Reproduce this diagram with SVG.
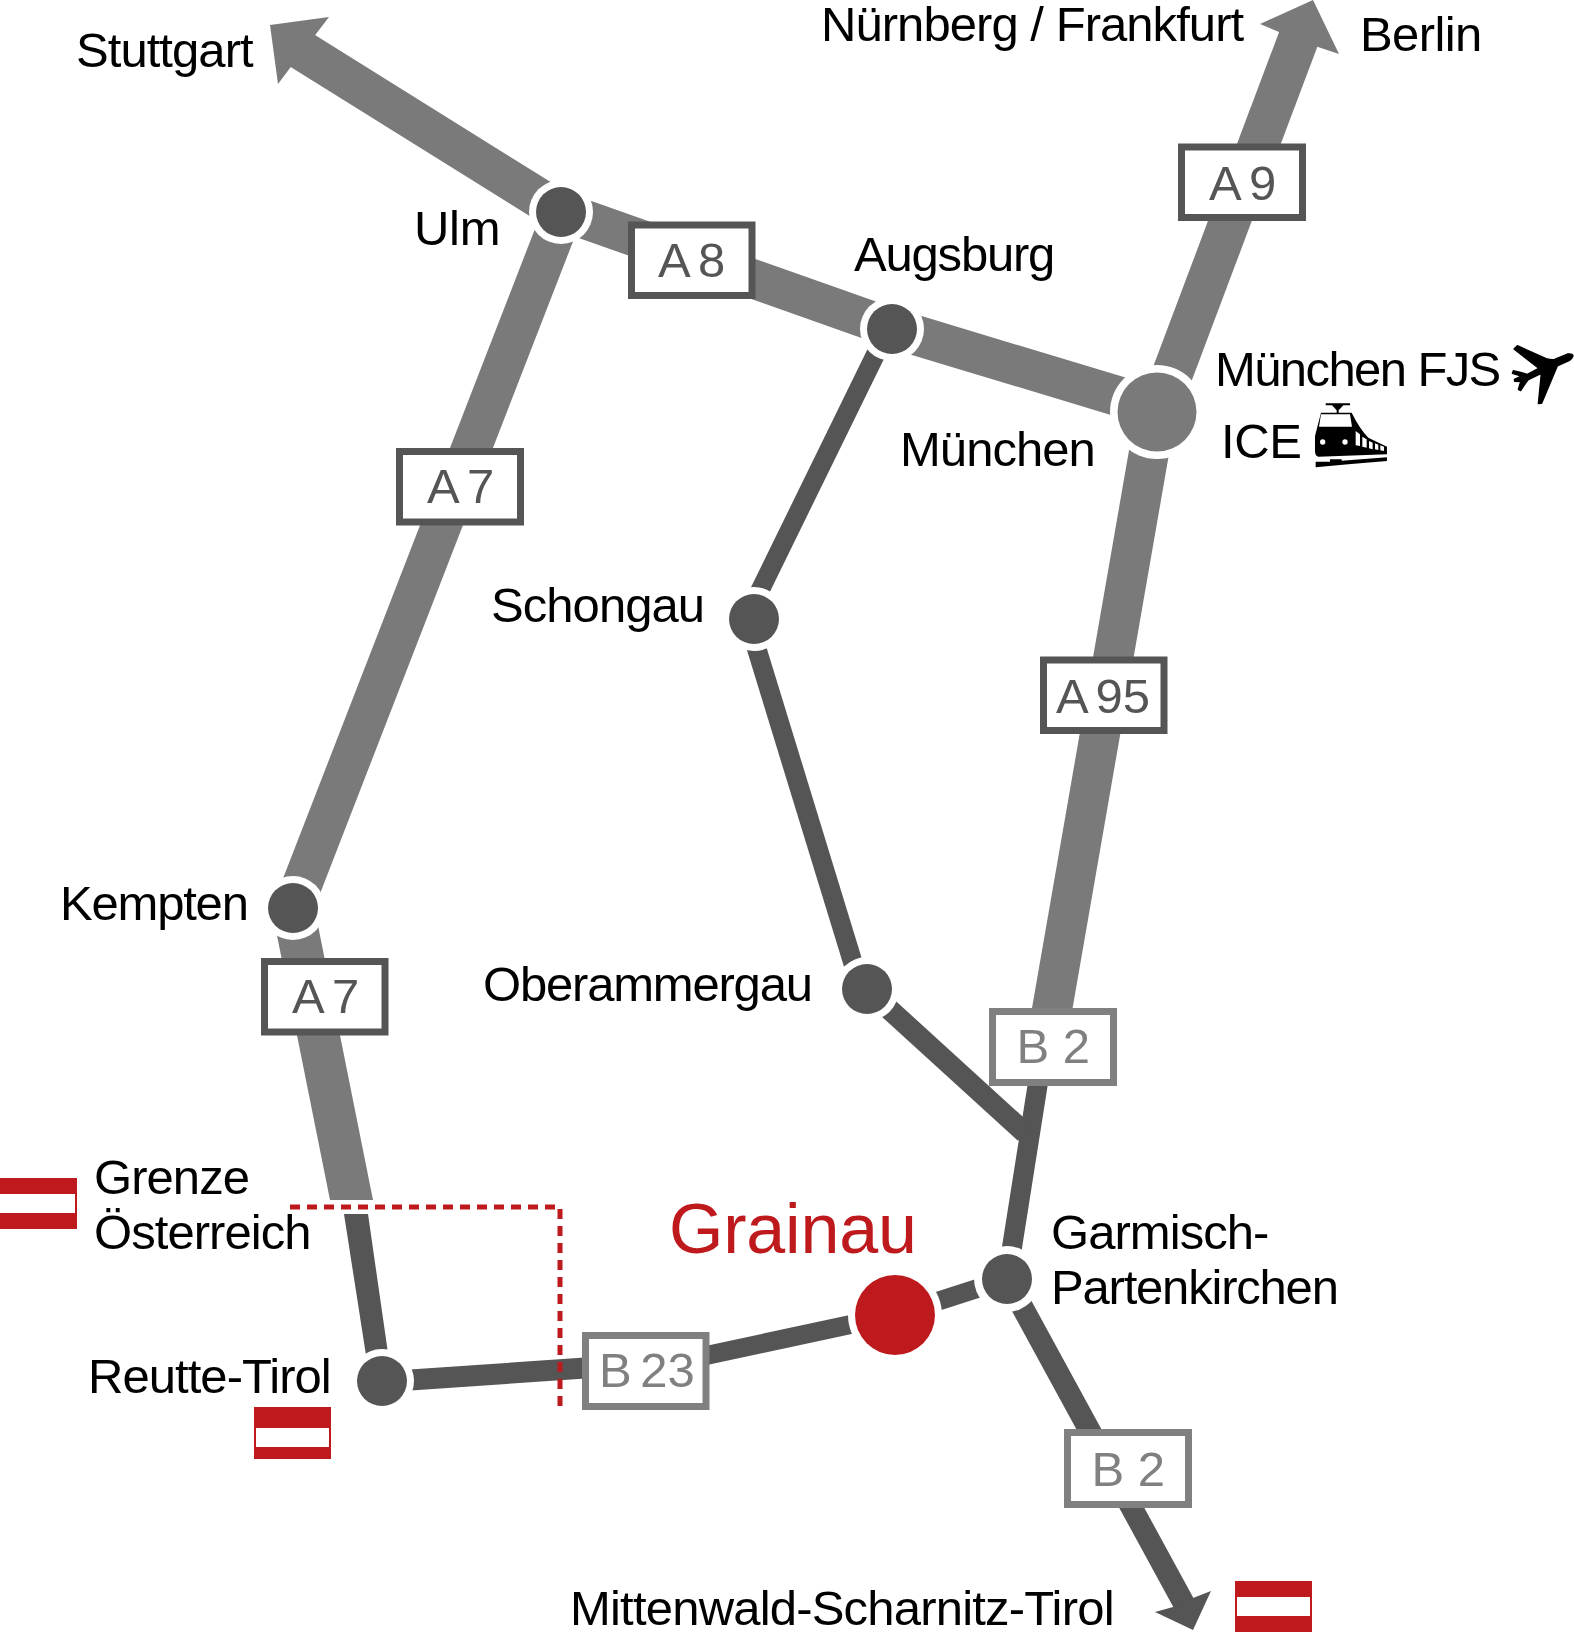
<svg xmlns="http://www.w3.org/2000/svg" width="1574" height="1632" viewBox="0 0 1574 1632">
<style>
text{font-family:"Liberation Sans",Arial,sans-serif;font-size:49px;letter-spacing:-.95px;fill:#000}
.hi{fill:none;stroke:#7a7a7a;stroke-width:40}
.lo{fill:none;stroke:#555;stroke-width:20}
.hh{fill:#7a7a7a}
.ld{fill:#555}
.halo{fill:#fff}
.dot{fill:#555}
.sa rect{fill:#fff;stroke:#555;stroke-width:7}
.sa text{fill:#555;letter-spacing:0;word-spacing:-3.500px}
.sb rect{fill:#fff;stroke:#808080;stroke-width:7}
.sb text{fill:#808080;letter-spacing:0}
.fr{fill:#be1a1d}
.fw{fill:#fff}
</style>
<rect width="1574" height="1632" fill="#fff"/>
<g id="connectors">
<line class="hi" x1="561" y1="212" x2="290" y2="43"/>
<polygon class="hh" points="270,25 329,17 316,34 290,68 278,84"/>
<line class="hi" x1="561" y1="211" x2="892" y2="328" style="stroke-width:39"/>
<line class="hi" x1="892" y1="328" x2="1157" y2="408"/>
<line class="hi" x1="1158" y1="412" x2="1304" y2="24" style="stroke-width:41"/>
<polygon class="hh" points="1313,0 1339,54 1318,47 1279,32 1260,24"/>
<line class="hi" x1="563" y1="212" x2="293" y2="908"/>
<polygon class="hh" points="271.500,908 314.500,908 373,1200 330,1200"/>
<polygon class="ld" points="344,1214 368,1214 392,1381 370,1381"/>
<line class="hi" x1="1156" y1="412" x2="1045" y2="1050"/>
<line class="lo" x1="1040" y1="1070" x2="1007" y2="1279"/>
<line class="lo" x1="888" y1="329" x2="746" y2="619" style="stroke-width:19"/>
<line class="lo" x1="747.600" y1="619" x2="861" y2="989" style="stroke-width:19.500"/>
<line class="lo" x1="867" y1="989" x2="1025" y2="1133" style="stroke-width:21"/>
<line class="lo" x1="381" y1="1382" x2="600" y2="1367" style="stroke-width:21"/>
<line class="lo" x1="690" y1="1359" x2="895" y2="1315" style="stroke-width:19"/>
<line class="lo" x1="895" y1="1315" x2="1007" y2="1279" style="stroke-width:19"/>
<line class="lo" x1="1007" y1="1279" x2="1188" y2="1611" style="stroke-width:22"/>
<polygon class="ld" points="1193,1630 1155,1612 1173,1607 1193,1598 1211,1591"/>
<path d="M290 1207H560V1408" fill="none" stroke="#be1a1d" stroke-width="5" stroke-dasharray="10 7"/>
</g>
<g id="node-stuttgart"><text x="76" y="67">Stuttgart</text></g>
<g id="node-nuernberg"><text x="821" y="41">Nürnberg / Frankfurt</text></g>
<g id="node-berlin"><text x="1360" y="51" style="letter-spacing:-.6px">Berlin</text></g>
<g id="node-ulm"><circle class="halo" cx="561" cy="212" r="32"/><circle class="dot" cx="561" cy="212" r="25"/><text x="414" y="245" style="letter-spacing:-.3px">Ulm</text></g>
<g id="node-augsburg"><circle class="halo" cx="892" cy="329" r="32"/><circle class="dot" cx="892" cy="329" r="25"/><text x="854" y="271" style="letter-spacing:-1.200px">Augsburg</text></g>
<g id="node-muenchen"><circle class="halo" cx="1157" cy="412" r="47"/><circle class="hh" cx="1157" cy="412" r="39.500"/><text x="900" y="466">München</text>
<text x="1215" y="386" style="letter-spacing:-1.600px">München FJS</text><text x="1221" y="458" style="letter-spacing:-.4px">ICE</text>
<g id="icon-plane" transform="translate(1504 340) scale(.3333)"><path stroke="#000" stroke-width="4" stroke-linejoin="round" d="M40 17L130 57Q140 60 150 59L190 42Q205 40 207 47Q206 55 195 62L160 78L113 190L103 191L112 100L72 120L66 128L50 152L43 148L50 125L32 124L31 118L52 108L25 100L28 92L50 97L70 103L104 85L30 27Z"/></g>
<g id="icon-train" transform="translate(1305 396) scale(.3333)"><path d="M62 22H135V28H115L101 43V50H140Q165 100 190 125L246 152V175L40 182Q30 180 30 165V120L48 50H95V43L81 28H62Z"/><path fill="#fff" d="M48 55H135L141 92H42Z"/><circle cx="53" cy="138" r="8" fill="#fff"/><circle cx="120" cy="138" r="8" fill="#fff"/><path fill="#fff" d="M152 105L165 115V150L152 148ZM172 122L185 130V155L172 152ZM192 135L203 140V160L192 157ZM210 142L220 146V162L210 160ZM226 148L237 152V165L226 163Z"/><path d="M32 197H75V190H110V194L246 184V195L130 205L32 214Z"/></g></g>
<g id="node-schongau"><circle class="halo" cx="754" cy="619" r="32"/><circle class="dot" cx="754" cy="619" r="25"/><text x="491" y="622">Schongau</text></g>
<g id="node-kempten"><circle class="halo" cx="293" cy="908" r="32"/><circle class="dot" cx="293" cy="908" r="25"/><text x="60" y="920" style="letter-spacing:-1.200px">Kempten</text></g>
<g id="node-oberammergau"><circle class="halo" cx="867" cy="989" r="32"/><circle class="dot" cx="867" cy="989" r="25"/><text x="483" y="1001" style="letter-spacing:-1.200px">Oberammergau</text></g>
<g id="node-garmisch"><circle class="halo" cx="1007" cy="1279" r="33"/><circle class="dot" cx="1007" cy="1279" r="25"/><text x="1051" y="1249">Garmisch-</text><text x="1051" y="1304" style="letter-spacing:-1.200px">Partenkirchen</text></g>
<g id="node-grainau"><circle class="halo" cx="895" cy="1315" r="47"/><circle class="fr" cx="895" cy="1315" r="40"/><text x="669" y="1253" style="font-size:70px;letter-spacing:-.2px;fill:#be1a1d">Grainau</text></g>
<g id="node-reutte"><circle class="halo" cx="382" cy="1381" r="32"/><circle class="dot" cx="382" cy="1381" r="25"/><text x="88" y="1393">Reutte-Tirol</text><rect class="fr" x="254" y="1407" width="77" height="52"/><rect class="fw" x="256" y="1428" width="73" height="19"/></g>
<g id="node-grenze"><text x="94" y="1194">Grenze</text><text x="94" y="1249">Österreich</text><rect class="fr" x="0" y="1178" width="77" height="51"/><rect class="fw" x="0" y="1194" width="75" height="19"/></g>
<g id="node-mittenwald"><text x="570" y="1625" style="letter-spacing:-.8px">Mittenwald-Scharnitz-Tirol</text><rect class="fr" x="1235" y="1581" width="77" height="51"/><rect class="fw" x="1237" y="1597" width="73" height="19"/></g>
<g id="shield-a9" class="sa"><rect x="1181.500" y="147" width="121" height="70.500"/><text x="1209" y="199.500">A 9</text></g>
<g id="shield-a8" class="sa"><rect x="631.500" y="225" width="120.500" height="70.500"/><text x="658" y="277">A 8</text></g>
<g id="shield-a7-1" class="sa"><rect x="399.500" y="451.500" width="121" height="70.500"/><text x="427" y="503">A 7</text></g>
<g id="shield-a7-2" class="sa"><rect x="264.500" y="961.500" width="120.500" height="70.500"/><text x="292" y="1013">A 7</text></g>
<g id="shield-a95" class="sa"><rect x="1043.500" y="660" width="120.500" height="70.500"/><text x="1056" y="713" style="word-spacing:-4px">A 95</text></g>
<g id="shield-b2-1" class="sb"><rect x="992.500" y="1011.500" width="121" height="71"/><text x="1016.500" y="1063">B 2</text></g>
<g id="shield-b2-2" class="sb"><rect x="1067.500" y="1432.500" width="121" height="72"/><text x="1091.500" y="1486">B 2</text></g>
<g id="shield-b23" class="sb"><rect x="585.500" y="1335.500" width="120.500" height="71"/><text x="599" y="1387" style="word-spacing:-5px">B 23</text></g>
</svg>
